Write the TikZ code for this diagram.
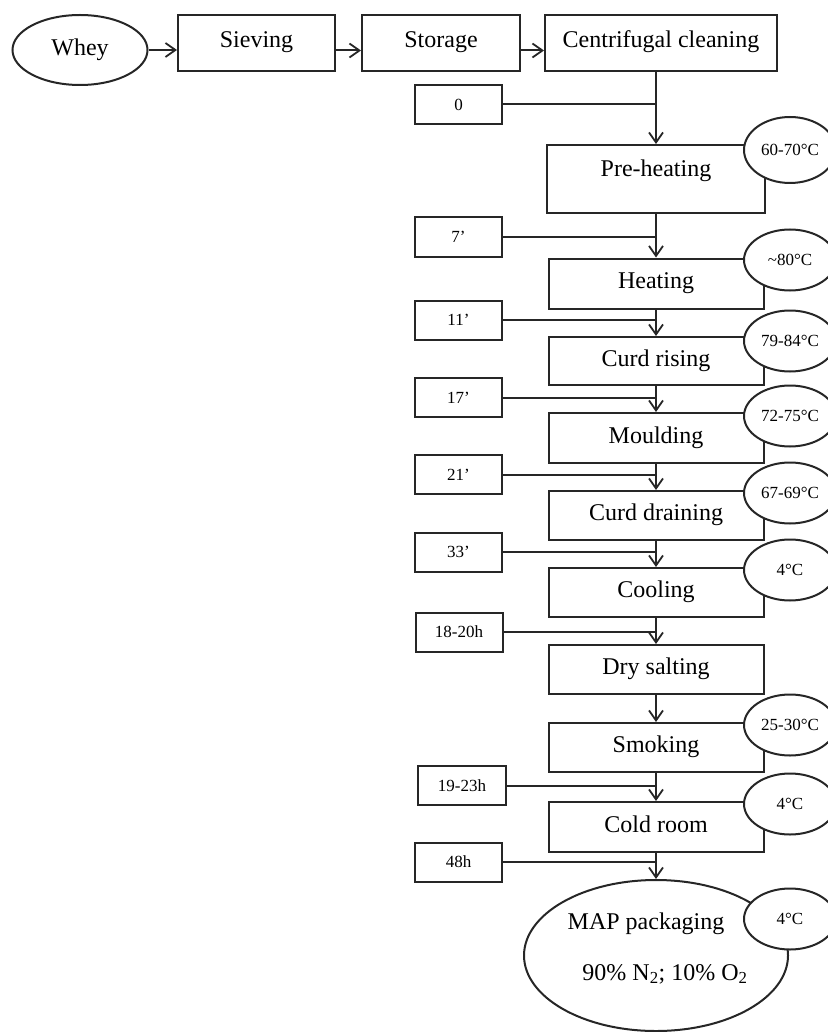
\documentclass[tikz,border=0pt]{standalone}
\usepackage{fontspec}
\setmainfont{Liberation Serif}
\usetikzlibrary{arrows.meta,shapes.geometric}
\begin{document}
\begin{tikzpicture}[x=1pt,y=-1pt,
  ln/.style={line width=2pt, draw=black!85},
  arr/.style={ln, -{Straight Barb[length=10pt,width=14pt,line width=1.8pt]}},
  bigtxt/.style={font=\fontsize{24}{28}\selectfont},
  smalltxt/.style={font=\fontsize{17}{20}\selectfont},
  stepbox/.style={ln, rectangle, minimum width=215pt, minimum height=50pt, inner sep=0pt, bigtxt, text height=17pt, text depth=7pt},
  topbox/.style={ln, rectangle, minimum height=56pt, inner sep=0pt, bigtxt, text height=17pt, text depth=9pt},
  timebox/.style={ln, rectangle, minimum width=87pt, minimum height=39pt, inner sep=0pt, smalltxt},
  tempell/.style={ln, ellipse, fill=white, minimum width=92pt, minimum height=61pt, inner sep=0pt, smalltxt},
]
\useasboundingbox (0,0) rectangle (827,1032);
% top row
\node[ln, ellipse, minimum width=135pt, minimum height=70pt, inner sep=0pt, bigtxt] (whey) at (80,50) {Whey};
\node[topbox, minimum width=157pt] (sieve) at (256.5,43.5) {Sieving};
\node[topbox, minimum width=158pt] (stor) at (441,43.5) {Storage};
\node[topbox, minimum width=232pt] (cc) at (661,43.5) {Centrifugal cleaning};
\draw[arr] (whey.east) -- (whey.east -| sieve.west);
\draw[arr] ([yshift=-7pt]sieve.east) -- ([yshift=-7pt]stor.west);
\draw[arr] ([yshift=-7pt]stor.east) -- ([yshift=-7pt]cc.west);
% process steps
\node[stepbox, minimum width=218pt, minimum height=68pt, text depth=21pt] (pre) at (656,179) {Pre-heating};
\node[stepbox] (heat) at (656,283.5) {Heating};
\node[stepbox, minimum height=48pt] (rise) at (656,361) {Curd rising};
\node[stepbox] (mould) at (656,438) {Moulding};
\node[stepbox, minimum height=49pt] (drain) at (656,515.5) {Curd draining};
\node[stepbox, minimum height=49pt] (cool) at (656,592.5) {Cooling};
\node[stepbox, minimum height=49pt] (salt) at (656,669.5) {Dry salting};
\node[stepbox, minimum height=49pt] (smoke) at (656,747.5) {Smoking};
\node[stepbox] (cold) at (656,827) {Cold room};
\node[ln, ellipse, minimum width=264pt, minimum height=151pt, inner sep=0pt] (map) at (656,955.5) {};
\node[bigtxt] (maptxt) at (646,924) {MAP packaging};
\node[bigtxt] (gastxt) at (665,974) {90\% N\textsubscript{2}; 10\% O\textsubscript{2}};
% spine arrows
\draw[arr] (pre.north |- cc.south) -- (pre.north);
\draw[arr] (pre.south) -- (heat.north);
\draw[arr] (heat.south) -- (rise.north);
\draw[arr] (rise.south) -- (mould.north);
\draw[arr] (mould.south) -- (drain.north);
\draw[arr] (drain.south) -- (cool.north);
\draw[arr] (cool.south) -- (salt.north);
\draw[arr] (salt.south) -- (smoke.north);
\draw[arr] (smoke.south) -- (cold.north);
\draw[arr] (cold.south) -- (map.north);
% time boxes
\node[timebox] (t0) at (458.5,104.5) {0};
\node[timebox] (t7) at (458.5,237) {7’};
\node[timebox] (t11) at (458.5,320) {11’};
\node[timebox] (t17) at (458.5,397.5) {17’};
\node[timebox] (t21) at (458.5,474.5) {21’};
\node[timebox] (t33) at (458.5,552) {33’};
\node[timebox] (t18) at (459,632) {18-20h};
\node[timebox, minimum width=88pt] (t19) at (462,785.5) {19-23h};
\node[timebox] (t48) at (458.5,862) {48h};
\draw[ln] (t0.east) -- (t0.east -| pre.north);
\draw[ln] (t7.east) -- (t7.east -| heat.north);
\draw[ln] (t11.east) -- (t11.east -| rise.north);
\draw[ln] (t17.east) -- (t17.east -| mould.north);
\draw[ln] (t21.east) -- (t21.east -| drain.north);
\draw[ln] (t33.east) -- (t33.east -| cool.north);
\draw[ln] (t18.east) -- (t18.east -| salt.north);
\draw[ln] (t19.east) -- (t19.east -| cold.north);
\draw[ln] (t48.east) -- (t48.east -| map.north);
% temperature ellipses
\node[tempell, minimum height=66pt] (e1) at (790,150) {60-70°C};
\node[tempell] (e2) at (790,260) {\textasciitilde80°C};
\node[tempell] (e3) at (790,341) {79-84°C};
\node[tempell] (e4) at (790,416) {72-75°C};
\node[tempell] (e5) at (790,493) {67-69°C};
\node[tempell] (e6) at (790,570) {4°C};
\node[tempell] (e7) at (790,725) {25-30°C};
\node[tempell] (e8) at (790,804) {4°C};
\node[tempell] (e9) at (790,919) {4°C};
\end{tikzpicture}
\end{document}
